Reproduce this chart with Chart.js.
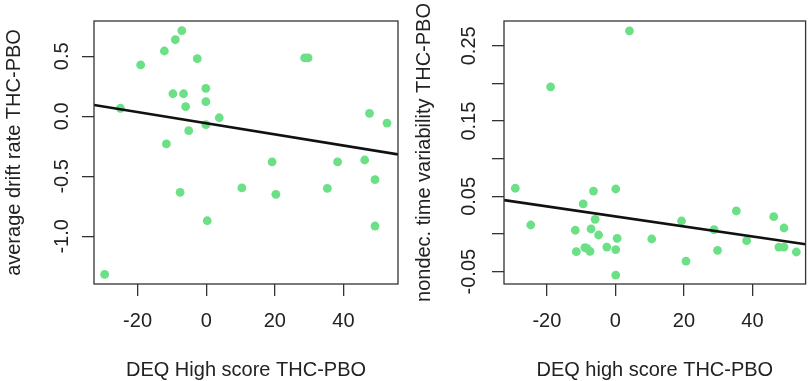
<!DOCTYPE html>
<html>
<head>
<meta charset="utf-8">
<script src="https://cdn.jsdelivr.net/npm/chart.js@4"></script>
<style>
  body { margin: 0; background: #fff; }
  .wrap { position: absolute; top: 0; width: 405px; height: 381px; }
</style>
</head>
<body>
<div class="wrap" style="left:0"><canvas id="left-chart" width="405" height="381"></canvas></div>
<div class="wrap" style="left:405px"><canvas id="right-chart" width="405" height="381"></canvas></div>
<script>
// left panel: drift rate
const leftX = [-29.6, -25.0, -19.1, -12.2, -9.0, -7.1, -2.6, -9.7, -6.6, -6.0, -0.1, -0.1, 3.8, -0.1, -5.1,
  -11.6, -7.6, 0.3, 10.4, 19.2, 20.3, 28.7, 29.7, 35.3, 38.3, 46.2, 47.6, 52.7, 49.2, 49.2]
const leftY = [-1.317, 0.067, 0.428, 0.544, 0.638, 0.714, 0.48, 0.188, 0.188, 0.08, 0.233, 0.122, -0.012, -0.07, -0.12,
  -0.23, -0.633, -0.87, -0.597, -0.38, -0.65, 0.486, 0.486, -0.60, -0.38, -0.364, 0.025, -0.056, -0.528, -0.914]
const leftFitX = [-32.7, 55.9]
const leftFitY = [0.094, -0.317]
const leftXTicks = [-20, 0, 20, 40]
const leftYTicks = [-1.0, -0.5, 0.0, 0.5]
const leftYLabels = ['-1.0', '-0.5', '0.0', '0.5']

// right panel: nondecision time variability
const rightX = [-29.2, -24.7, -18.9, 4.1, -11.7, -11.4, -9.4, -8.9, -8.3, -7.4, -7.1, -6.4, -5.9, -4.9, -2.5, 0.1,
  0.5, 0.1, 0.1, 10.6, 19.3, 20.6, 28.8, 29.8, 35.3, 38.3, 46.2, 47.7, 49.2, 49.2, 52.8]
const rightY = [0.0608, 0.012, 0.1955, 0.27, 0.005, -0.0234, 0.040, -0.018, -0.019, -0.023, 0.0067, 0.057, 0.0195,
  -0.0013, -0.0173, 0.0598, -0.0057, -0.0207, -0.0545, -0.0066, 0.0173, -0.0359, 0.0058, -0.0217, 0.0306, -0.0088,
  0.0231, -0.0173, -0.0173, 0.008, -0.0239]
const rightFitX = [-32.5, 55.5]
const rightFitY = [0.045, -0.0135]
const rightXTicks = [-20, 0, 20, 40]
const rightYTicks = [-0.05, 0.0, 0.05, 0.10, 0.15, 0.20, 0.25]
const rightYLabels = ['-0.05', '', '0.05', '', '0.15', '', '0.25']

const FONT = '20px "Liberation Sans", Arial, sans-serif'
const INK = '#222'
const DOT = 'rgb(108, 224, 134)'

// R-style frame and text: box around plot, rotated y labels
const rStyle = {
  id: 'rStyle',
  afterDraw(chart, args, o) {
    const { ctx, chartArea: a, scales } = chart
    ctx.save()
    ctx.strokeStyle = '#333'
    ctx.lineWidth = 1.3
    ctx.strokeRect(a.left, a.top, a.right - a.left, a.bottom - a.top)

    ctx.fillStyle = INK
    ctx.font = FONT
    ctx.textAlign = 'center'
    ctx.textBaseline = 'middle'
    scales.x.ticks.forEach(t => {
      ctx.fillText(String(t.value), scales.x.getPixelForValue(t.value), 321)
    })
    ctx.textBaseline = 'alphabetic'
    ctx.fillText(o.xTitle, (a.left + a.right) / 2, 376)

    scales.y.ticks.forEach((t, i) => {
      ctx.save()
      ctx.translate(o.yLabelX, scales.y.getPixelForValue(t.value))
      ctx.rotate(-Math.PI / 2)
      ctx.fillText(o.yLabels[i], 0, 0)
      ctx.restore()
    })
    ctx.save()
    ctx.translate(o.yTitleX, (a.top + a.bottom) / 2)
    ctx.rotate(-Math.PI / 2)
    ctx.fillText(o.yTitle, 0, 0)
    ctx.restore()
    ctx.restore()
  }
}

function makePlot(id, xs, ys, fitX, fitY, xTicks, yTicks, range, frame, text) {
  return new Chart(document.getElementById(id), {
    type: 'scatter',
    data: {
      datasets: [
        { type: 'line', data: fitX.map((x, i) => ({ x, y: fitY[i] })), borderColor: '#111', borderWidth: 2.6, pointRadius: 0 },
        { data: xs.map((x, i) => ({ x, y: ys[i] })), backgroundColor: DOT, borderWidth: 0, pointRadius: 4.4 }
      ]
    },
    plugins: [rStyle],
    options: {
      responsive: false,
      animation: false,
      layout: { padding: { top: 21, right: frame.right, bottom: 0, left: 0 } },
      scales: {
        x: {
          type: 'linear', min: range.xmin, max: range.xmax,
          afterBuildTicks: s => { s.ticks = xTicks.map(v => ({ value: v })) },
          afterFit: s => { s.height = 97 },
          ticks: { display: false },
          border: { display: false },
          grid: { drawOnChartArea: false, drawTicks: true, tickLength: 12, color: '#333', lineWidth: 1.3 }
        },
        y: {
          type: 'linear', min: range.ymin, max: range.ymax,
          afterBuildTicks: s => { s.ticks = yTicks.map(v => ({ value: v })) },
          afterFit: s => { s.width = frame.left },
          ticks: { display: false },
          border: { display: false },
          grid: { drawOnChartArea: false, drawTicks: true, tickLength: 12, color: '#333', lineWidth: 1.3 }
        }
      },
      plugins: { legend: false, tooltip: false, rStyle: text }
    }
  })
}

makePlot('left-chart', leftX, leftY, leftFitX, leftFitY, leftXTicks, leftYTicks,
  { xmin: -32.7, xmax: 55.9, ymin: -1.397, ymax: 0.794 },
  { left: 94, right: 7 },
  { xTitle: 'DEQ High score THC-PBO', yTitle: 'average drift rate THC-PBO', yLabels: leftYLabels, yLabelX: 68, yTitleX: 19.5 })

makePlot('right-chart', rightX, rightY, rightFitX, rightFitY, rightXTicks, rightYTicks,
  { xmin: -32.5, xmax: 55.5, ymin: -0.0664, ymax: 0.283 },
  { left: 99, right: 4 },
  { xTitle: 'DEQ high score THC-PBO', yTitle: 'nondec. time variability THC-PBO', yLabels: rightYLabels, yLabelX: 70, yTitleX: 24.5 })
</script>
</body>
</html>
